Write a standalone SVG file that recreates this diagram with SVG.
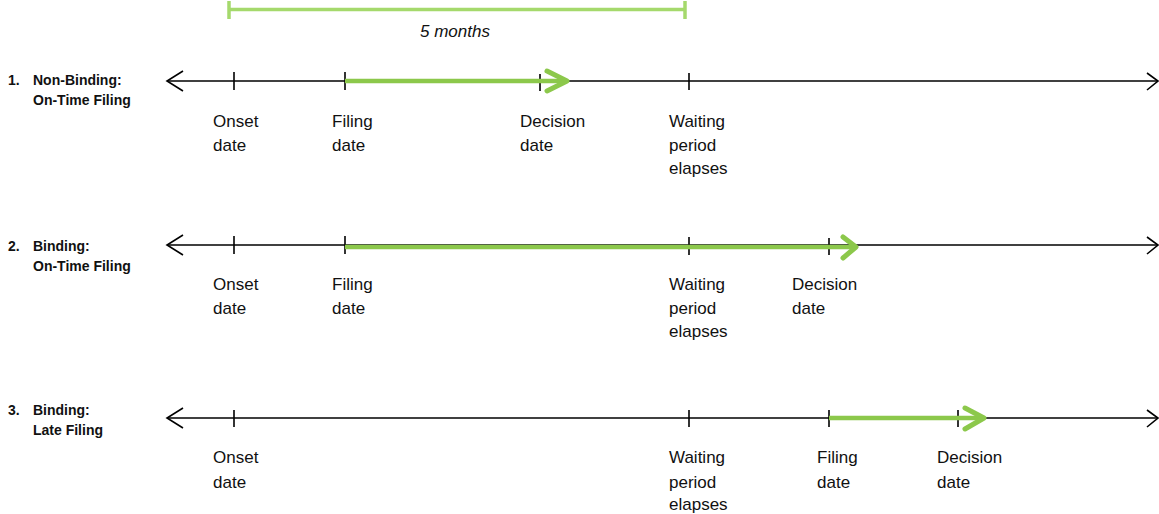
<svg xmlns="http://www.w3.org/2000/svg" width="1159" height="514" viewBox="0 0 1159 514">
<style>
.axis{stroke:#000;stroke-width:1.6;fill:none}
.tick{stroke:#000;stroke-width:1.6}
.head{stroke:#000;stroke-width:1.6;fill:none}
.garrow{stroke:#8cc84b;stroke-width:5;fill:none;stroke-linecap:round;stroke-linejoin:round}
.gline{stroke:#8cc84b;stroke-width:4.5;fill:none}
.lbl{font-family:"Liberation Sans",Arial,sans-serif;font-size:17px;fill:#111}
.row{font-family:"Liberation Sans",Arial,sans-serif;font-size:14px;font-weight:bold;fill:#111}
.meas{stroke:#a5d96c;stroke-width:3.5;fill:none}
</style>
<rect width="1159" height="514" fill="#fff"/>

<g id="measure">
<line class="meas" x1="229" y1="9.5" x2="685" y2="9.5"/>
<line class="meas" x1="229" y1="1" x2="229" y2="19" stroke-width="2.5"/>
<line class="meas" x1="685" y1="1" x2="685" y2="19" stroke-width="2.5"/>
<text x="420" y="37" class="lbl" font-style="italic">5 months</text>
</g>

<g id="row1">
<text class="row" x="8" y="85">1.</text>
<text class="row" x="33" y="85">Non-Binding:</text>
<text class="row" x="33" y="105">On-Time Filing</text>
<line class="axis" x1="167" y1="81" x2="1158" y2="81"/>
<polyline class="head" points="183,71 167,81 183,91"/>
<polyline class="head" points="1147,73 1158,81 1147,90"/>
<line class="tick" x1="234" y1="72" x2="234" y2="90"/>
<line class="tick" x1="345" y1="72" x2="345" y2="90"/>
<line class="tick" x1="540" y1="74" x2="540" y2="91"/>
<line class="tick" x1="689" y1="73" x2="689" y2="90"/>
<line class="gline" x1="345" y1="81" x2="565" y2="81"/>
<polyline class="garrow" points="547,71 567,81 547,91"/>
<text class="lbl" x="213" y="127">Onset</text><text class="lbl" x="213" y="151">date</text>
<text class="lbl" x="332" y="127">Filing</text><text class="lbl" x="332" y="151">date</text>
<text class="lbl" x="520" y="127">Decision</text><text class="lbl" x="520" y="151">date</text>
<text class="lbl" x="669" y="127">Waiting</text><text class="lbl" x="669" y="151">period</text><text class="lbl" x="669" y="174">elapses</text>
</g>

<g id="row2">
<text class="row" x="8" y="251">2.</text>
<text class="row" x="33" y="251">Binding:</text>
<text class="row" x="33" y="271">On-Time Filing</text>
<line class="axis" x1="167" y1="245" x2="1158" y2="245"/>
<polyline class="head" points="183,235 167,245 183,255"/>
<polyline class="head" points="1147,237 1158,245 1147,254"/>
<line class="tick" x1="234" y1="236" x2="234" y2="254"/>
<line class="tick" x1="345" y1="236" x2="345" y2="254"/>
<line class="tick" x1="689" y1="237" x2="689" y2="255"/>
<line class="tick" x1="829" y1="238" x2="829" y2="255"/>
<line class="gline" x1="345" y1="247" x2="854" y2="247"/>
<polyline class="garrow" points="843,237 856,247 843,258"/>
<text class="lbl" x="213" y="290">Onset</text><text class="lbl" x="213" y="314">date</text>
<text class="lbl" x="332" y="290">Filing</text><text class="lbl" x="332" y="314">date</text>
<text class="lbl" x="669" y="290">Waiting</text><text class="lbl" x="669" y="314">period</text><text class="lbl" x="669" y="337">elapses</text>
<text class="lbl" x="792" y="290">Decision</text><text class="lbl" x="792" y="314">date</text>
</g>

<g id="row3">
<text class="row" x="8" y="415">3.</text>
<text class="row" x="33" y="415">Binding:</text>
<text class="row" x="33" y="435">Late Filing</text>
<line class="axis" x1="167" y1="418" x2="1158" y2="418"/>
<polyline class="head" points="183,408 167,418 183,428"/>
<polyline class="head" points="1147,410 1158,418 1147,427"/>
<line class="tick" x1="234" y1="410" x2="234" y2="427"/>
<line class="tick" x1="689" y1="410" x2="689" y2="427"/>
<line class="tick" x1="829" y1="410" x2="829" y2="427"/>
<line class="tick" x1="958" y1="410" x2="958" y2="427"/>
<line class="gline" x1="829" y1="418" x2="982" y2="418"/>
<polyline class="garrow" points="965,408 984,418 965,429"/>
<text class="lbl" x="213" y="463">Onset</text><text class="lbl" x="213" y="488">date</text>
<text class="lbl" x="669" y="463">Waiting</text><text class="lbl" x="669" y="488">period</text><text class="lbl" x="669" y="510">elapses</text>
<text class="lbl" x="817" y="463">Filing</text><text class="lbl" x="817" y="488">date</text>
<text class="lbl" x="937" y="463">Decision</text><text class="lbl" x="937" y="488">date</text>
</g>
</svg>
